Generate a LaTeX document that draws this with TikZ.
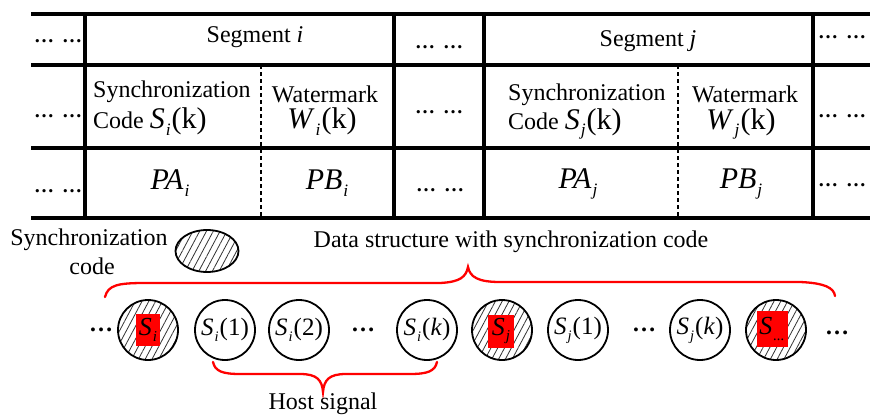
\documentclass[tikz,border=0pt]{standalone}
\usepackage{graphicx}
\usepackage{fontspec}
\setmainfont{Liberation Serif}
\usetikzlibrary{patterns.meta,shapes.geometric}
\newcommand\ssub[1]{\hspace{1pt}\raisebox{-0.5ex}{\scalebox{0.58}{\itshape #1}}\hspace{1pt}}
\newcommand\dotsdots{{\bfseries\fontsize{20}{20}\selectfont\ldots\hspace{8pt}\ldots}}
\tikzset{
  tline/.style={line width=3.2pt},
  dline/.style={line width=2.6pt, dash pattern=on 4pt off 3pt},
  txt/.style={font=\fontsize{24}{26}\selectfont, inner sep=0pt},
  big/.style={font=\fontsize{30}{32}\selectfont, inner sep=0pt},
  dotn/.style={inner sep=0pt, anchor=base},
  cell/.style={circle, draw, line width=1.8pt, minimum size=60pt, inner sep=0pt,
    font=\fontsize{25}{27}\selectfont},
  hcell/.style={cell, pattern={Lines[angle=62,distance=6pt,line width=0.8pt]},
    pattern color=black!80},
  redbox/.style={fill=red, inner sep=0pt, font=\fontsize{26}{28}\selectfont},
  brace/.style={red, line width=2.3pt, line cap=round},
  bdots/.style={font=\bfseries\fontsize{24}{26}\selectfont, inner sep=0pt},
}
\begin{document}
\begin{tikzpicture}[x=1pt,y=-1pt]
\useasboundingbox (0,0) rectangle (870,415);
% table lines
\foreach \yy in {14,65,148,218} \draw[tline] (31,\yy) -- (870,\yy);
\foreach \xx in {85,394,484,813} \draw[tline] (\xx,14) -- (\xx,218);
\draw[dline] (261,65) -- (261,218);
\draw[dline] (678,65) -- (678,218);
% dots
\node[dotn] (dl1) at (58,42) {\dotsdots};
\node[dotn] (dl2) at (58,117) {\dotsdots};
\node[dotn] (dl3) at (58,192) {\dotsdots};
\node[dotn] (dm1) at (439,48) {\dotsdots};
\node[dotn] (dm2) at (439,113) {\dotsdots};
\node[dotn] (dm3) at (440,191) {\dotsdots};
\node[dotn] (dr1) at (842,38) {\dotsdots};
\node[dotn] (dr2) at (842,117) {\dotsdots};
\node[dotn] (dr3) at (842,186) {\dotsdots};
% row 1
\node[txt] (segi) at (255,37) {Segment \textit{i}};
\node[txt] (segj) at (648,41) {Segment \textit{j}};
% row 2
\node[txt, anchor=west] (synci) at (93,92) {Synchronization};
\node[txt, anchor=west] (codei) at (93,122) {Code {\fontsize{30}{32}\selectfont\textit{S}\ssub{i}(k)}};
\node[txt] (wmi) at (325,94) {Watermark};
\node[big] (wi) at (322,122) {\textit{W}\ssub{i}(k)};
\node[txt, anchor=west] (syncj) at (508,95) {Synchronization};
\node[txt, anchor=west] (codej) at (508,124) {Code\hspace{6pt}{\fontsize{30}{32}\selectfont\textit{S}\ssub{j}(k)}};
\node[txt] (wmj) at (745,94) {Watermark};
\node[big] (wj) at (741,124) {\textit{W}\ssub{j}(k)};
% row 3
\node[big] (pai) at (170,183) {\textit{PA}\ssub{i}};
\node[big] (pbi) at (327,183) {\textit{PB}\ssub{i}};
\node[big] (paj) at (578,184) {\textit{PA}\ssub{j}};
\node[big] (pbj) at (741,184) {\textit{PB}\ssub{j}};
% legend
\node[txt] (legs) at (89,240) {Synchronization};
\node[txt] (legc) at (92,266) {code};
\node[ellipse, draw, line width=1.8pt, minimum width=63pt, minimum height=42pt,
  pattern={Lines[angle=62,distance=6pt,line width=0.8pt]}, pattern color=black!80] (lege) at (207,251) {};
\node[txt] (dstr) at (511,242) {Data structure with synchronization code};
% sequence
\node[bdots] (q0) at (101,330) {\ldots};
\node[hcell] (c1) at (148,330) {};
\node[redbox, minimum width=24pt, minimum height=32pt] (r1) at (148,330) {\textit{S}\ssub{i}};
\node[cell] (c2) at (225,330) {\textit{S}\ssub{i}(1)};
\node[cell] (c3) at (299,330) {\textit{S}\ssub{i}(2)};
\node[bdots] (q1) at (363,330) {\ldots};
\node[cell] (c4) at (427,330) {\textit{S}\ssub{i}(\textit{k})};
\node[hcell] (c5) at (502,330) {};
\node[redbox, minimum width=26pt, minimum height=33pt] (r5) at (501,331) {\textit{S}\ssub{j}};
\node[cell] (c6) at (578,330) {\textit{S}\ssub{j}(1)};
\node[bdots] (q2) at (644,330) {\ldots};
\node[cell] (c7) at (700,330) {\textit{S}\ssub{j}(\textit{k})};
\node[hcell] (c8) at (776,330) {};
\node[redbox, minimum width=31pt, minimum height=36pt] (r8) at (772,329) {\textit{S}\ssub{...}};
\node[bdots] (q3) at (837,333) {\ldots};
% braces
\coordinate (bl) at (105,297);
\coordinate (bt) at (468,267);
\coordinate (br) at (835,296);
\draw[brace] (bl) .. controls (108,285) and (118,283) .. (145,283) -- (440,283)
  .. controls (460,282) and (466,277) .. (bt)
  .. controls (470,277) and (478,282) .. (500,282) -- (800,282)
  .. controls (825,283) and (834,288) .. (br);
\coordinate (hl) at (213,362);
\coordinate (ht) at (323,392);
\coordinate (hr) at (437,362);
\draw[brace] (hl) .. controls (215,371) and (222,374) .. (240,374) -- (300,374)
  .. controls (317,374) and (322,380) .. (ht)
  .. controls (324,380) and (329,374) .. (346,374) -- (410,374)
  .. controls (428,374) and (435,371) .. (hr);
\node[txt] (host) at (323,404) {Host signal};
\end{tikzpicture}
\end{document}
